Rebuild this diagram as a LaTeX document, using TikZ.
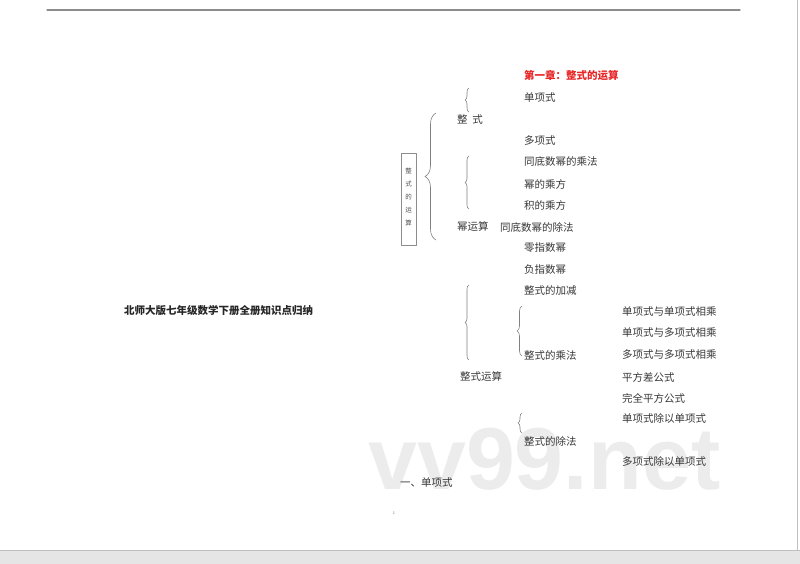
\documentclass[tikz,border=0pt]{standalone}
\usepackage{fontspec}
\newfontfamily\cjk{Noto Sans CJK SC}
\newfontfamily\wmfont{Liberation Sans}
\usetikzlibrary{decorations.pathreplacing}
\definecolor{chapred}{RGB}{232,38,38}
\definecolor{ink}{RGB}{55,55,55}
\definecolor{wmgray}{RGB}{236,236,236}

\begin{document}
\begin{tikzpicture}[x=1pt,y=-1pt,line cap=round,line join=round,
  item/.style={anchor=west,inner sep=0pt,text=ink,font=\cjk\fontsize{10.5}{12}\selectfont},
  curly/.style={decorate,decoration={brace,amplitude=#1},draw=black!50,line width=0.6pt}]
\useasboundingbox (0,0) rectangle (800,564);
% page
\fill[black!10] (0,550) rectangle (800,564);
\draw[black!25] (0,550)--(800,550);
\draw[black!25] (797,0)--(797,550);
\draw[black!45,line width=1.3pt] (47,10)--(740,10);
% watermark
\node[anchor=base west,inner sep=0pt,text=wmgray,font=\wmfont\bfseries\fontsize{88}{90}\selectfont] (wm) at (368,489) {vv99.net};
% title and left caption
\node[item,text=chapred,font=\cjk\bfseries\fontsize{10.5}{12}\selectfont] (title) at (524,76) {第一章：整式的运算};
\node[item,font=\cjk\bfseries\fontsize{10.5}{12}\selectfont,text=black!85] (book) at (124,311) {北师大版七年级数学下册全册知识点归纳};
% vertical box
\draw[black!45,line width=0.5pt] (401,153) rectangle (416,245);
\node[inner sep=0pt,align=center,text=black!70,font=\cjk\fontsize{6.5}{13}\selectfont] (box) at (408.5,197) {整\\式\\的\\运\\算};
% first column
\node[item] (zs) at (457,120) {整\ \ 式};
\node[item] (mys) at (457,227) {幂运算};
\node[item] (zsys) at (460,377) {整式运算};
% second column
\node[item] (dxs) at (524,98) {单项式};
\node[item] (dxs2) at (524,141) {多项式};
\node[item] (tdcf) at (524,162) {同底数幂的乘法};
\node[item] (mdcf) at (524,184) {幂的乘方};
\node[item] (jdcf) at (524,205) {积的乘方};
\node[item] (tdcc) at (500,227) {同底数幂的除法};
\node[item] (lzs) at (524,248) {零指数幂};
\node[item] (fzs) at (524,270) {负指数幂};
\node[item] (jj) at (524,291) {整式的加减};
\node[item] (cf) at (524,355) {整式的乘法};
\node[item] (cc) at (524,441) {整式的除法};
% third column
\node[item] (dd) at (622,312) {单项式与单项式相乘};
\node[item] (dw) at (622,333) {单项式与多项式相乘};
\node[item] (ww) at (622,355) {多项式与多项式相乘};
\node[item] (pfc) at (622,377) {平方差公式};
\node[item] (wqpf) at (622,398) {完全平方公式};
\node[item] (ddc) at (622,419) {单项式除以单项式};
\node[item] (wdc) at (622,462) {多项式除以单项式};
% below
\node[item] (sec) at (400,483) {一、单项式};
\node[inner sep=0pt,text=black!60,font=\fontsize{4}{5}\selectfont] (pg) at (394,513) {1};
% braces
\draw[curly=11] (436,240)--(436,113);
\draw[curly=4] (469,112)--(469,88);
\draw[curly=4] (469,209)--(469,156);
\draw[curly=4] (469,360)--(469,285);
\draw[curly=5] (522,356)--(522,306);
\draw[curly=4] (522,433)--(522,413);
\end{tikzpicture}
\end{document}
